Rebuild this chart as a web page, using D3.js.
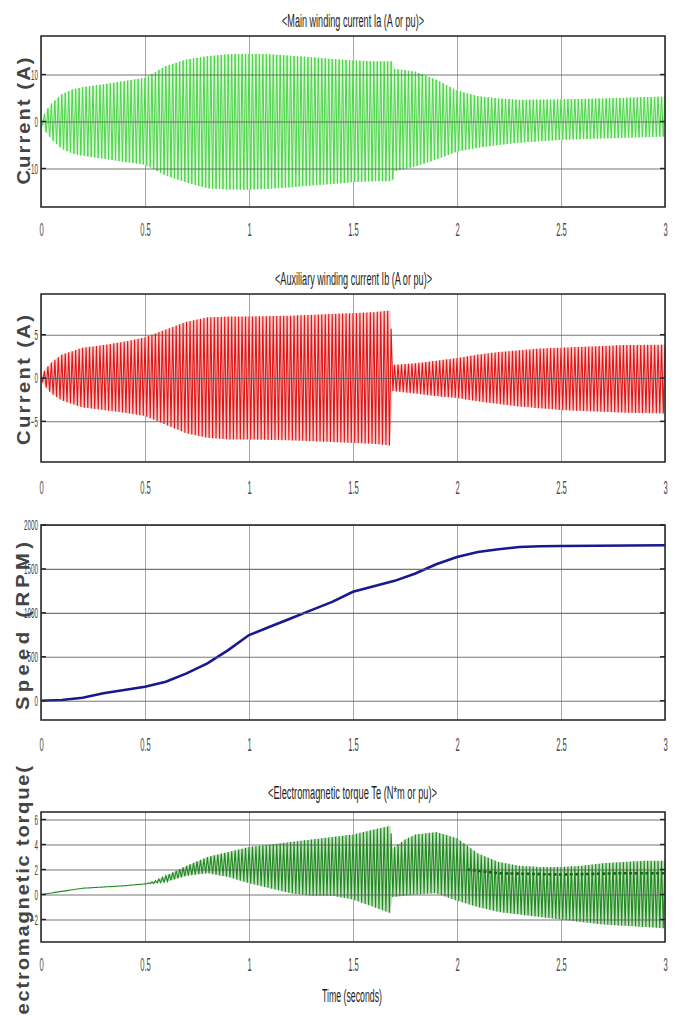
<!DOCTYPE html>
<html>
<head>
<meta charset="utf-8">
<script src="https://cdn.jsdelivr.net/npm/d3@7"></script>
<style>
  html, body { margin: 0; padding: 0; background: #fff; }
  svg { display: block; font-family: "Liberation Sans", Arial, sans-serif; }
</style>
</head>
<body>
<script>
// ---- data ---------------------------------------------------------------
const xTicks = [0, 0.5, 1, 1.5, 2, 2.5, 3];
const supplyHz = 60;

// Main winding current Ia: envelope of the oscillation (A)
const iaTimes = [0, 0.02, 0.05, 0.1, 0.15, 0.2, 0.3, 0.4, 0.5, 0.6, 0.7, 0.8, 0.9, 1.0, 1.1, 1.2, 1.3, 1.4, 1.5, 1.6, 1.69, 1.70, 1.8, 1.9, 2.0, 2.1, 2.2, 2.3, 2.5, 2.7, 3.0];
const iaUpper = [0, 2.0, 3.8, 5.8, 6.8, 7.3, 7.9, 8.6, 9.3, 11.8, 13.2, 13.9, 14.3, 14.4, 14.3, 14.0, 13.7, 13.3, 13.0, 12.8, 12.8, 11.2, 10.6, 8.9, 6.6, 5.4, 4.9, 4.6, 4.7, 4.9, 5.3];
const iaLower = [0, -2.0, -3.8, -5.8, -6.8, -7.3, -7.9, -8.6, -9.2, -11.5, -13.0, -14.2, -14.5, -14.5, -14.3, -14.0, -13.6, -13.3, -12.9, -12.7, -12.7, -10.6, -9.6, -8.1, -6.4, -5.6, -5.0, -4.5, -3.9, -3.6, -3.2];
const iaTicks = [-10, 0, 10];

// Auxiliary winding current Ib: envelope of the oscillation (A)
const ibTimes = [0, 0.02, 0.05, 0.1, 0.2, 0.3, 0.4, 0.5, 0.6, 0.7, 0.8, 0.9, 1.0, 1.2, 1.4, 1.6, 1.68, 1.69, 1.8, 1.9, 2.0, 2.1, 2.2, 2.3, 2.4, 2.5, 2.6, 2.7, 2.8, 3.0];
const ibUpper = [0, 1.0, 1.8, 2.7, 3.5, 3.8, 4.2, 4.7, 5.6, 6.5, 7.0, 7.1, 7.1, 7.2, 7.4, 7.6, 7.8, 1.5, 1.7, 2.0, 2.3, 2.7, 3.0, 3.2, 3.4, 3.5, 3.6, 3.7, 3.8, 3.85];
const ibLower = [0, -1.0, -1.8, -2.6, -3.4, -3.7, -4.0, -4.4, -5.4, -6.4, -6.9, -7.1, -7.1, -7.2, -7.4, -7.6, -7.8, -1.5, -1.8, -2.1, -2.3, -2.7, -3.0, -3.3, -3.5, -3.7, -3.8, -3.9, -4.0, -4.1];
const ibTicks = [-5, 0, 5];

// Rotor speed (RPM)
const speedTimes = [0, 0.1, 0.2, 0.3, 0.4, 0.5, 0.6, 0.7, 0.8, 0.9, 1.0, 1.1, 1.2, 1.3, 1.4, 1.5, 1.6, 1.7, 1.8, 1.9, 2.0, 2.1, 2.2, 2.3, 2.4, 2.5, 3.0];
const speedRpm = [0, 8, 34, 84, 122, 159, 216, 311, 425, 576, 747, 841, 936, 1031, 1125, 1239, 1303, 1364, 1448, 1553, 1636, 1693, 1724, 1750, 1758, 1761, 1769];
const speedTicks = [0, 500, 1000, 1500, 2000];

// Electromagnetic torque Te: envelope of the oscillation (N*m)
const teTimes = [0, 0.1, 0.2, 0.3, 0.4, 0.5, 0.55, 0.6, 0.7, 0.8, 0.9, 1.0, 1.1, 1.2, 1.3, 1.4, 1.5, 1.6, 1.68, 1.69, 1.75, 1.8, 1.9, 2.0, 2.1, 2.2, 2.3, 2.4, 2.5, 2.6, 2.7, 2.8, 2.9, 3.0];
const teUpper = [0, 0.25, 0.5, 0.6, 0.7, 0.85, 1.1, 1.5, 2.3, 3.0, 3.4, 3.8, 4.0, 4.2, 4.4, 4.6, 4.8, 5.2, 5.5, 3.7, 4.4, 4.8, 5.0, 4.5, 3.3, 2.6, 2.3, 2.2, 2.2, 2.3, 2.5, 2.6, 2.7, 2.7];
const teLower = [0, 0.25, 0.5, 0.6, 0.7, 0.85, 0.9, 1.0, 1.5, 1.7, 1.4, 0.9, 0.5, 0.1, -0.1, -0.1, -0.4, -1.0, -1.5, -0.2, -0.1, 0.0, 0.1, -0.5, -1.0, -1.4, -1.6, -1.8, -2.0, -2.2, -2.4, -2.5, -2.6, -2.7];
// where the torque trace dwells once the machine settles (N*m)
const teDwellTimes = [2.05, 2.2, 2.5, 2.8, 3.0];
const teDwell = [2.0, 1.7, 1.6, 1.7, 1.7];
const teTicks = [-2, 0, 2, 4, 6];

// ---- drawing ------------------------------------------------------------
const W = 677, H = 1016;
const svg = d3.select("body").append("svg").attr("width", W).attr("height", H);
svg.append("rect").attr("width", W).attr("height", H).attr("fill", "#fff");

const x = d3.scaleLinear().domain([0, 3]).range([41, 665]);
const labelStretch = 1.12; // glyphs of the axis labels run slightly tall

// squeeze rendered text horizontally to a narrow face
function narrow(sel, factor) {
  sel.each(function () {
    const len = this.getComputedTextLength();
    d3.select(this).attr("textLength", len * factor).attr("lengthAdjust", "spacingAndGlyphs");
  });
}

function panel(p) {
  const y = d3.scaleLinear().domain(p.yDomain).range([p.bottom, p.top]);
  const g = svg.append("g");
  const h = p.bottom - p.top;
  const w = x(3) - x(0);

  // axis label (drawn first so the tick labels sit on top of it)
  g.append("text")
    .attr("transform", `translate(${p.labelX},${p.labelY}) rotate(-90) scale(${labelStretch},1)`)
    .attr("text-anchor", p.labelAnchor || "middle")
    .attr("font-size", 18).attr("font-weight", "bold").attr("fill", "#444")
    .attr("textLength", p.labelLen / labelStretch).attr("lengthAdjust", "spacing")
    .text(p.yLabel);

  // vertical grid
  g.append("g").attr("transform", `translate(0,${p.bottom})`)
    .call(d3.axisBottom(x).tickValues(xTicks).tickSize(-h).tickFormat(""))
    .call(s => { s.select(".domain").remove(); s.selectAll("line").attr("stroke", "#a8a8a8").attr("stroke-width", 1); });

  const layer = g.append("g");

  // horizontal grid, over the traces
  g.append("g").attr("transform", `translate(${x(0)},0)`)
    .call(d3.axisLeft(y).tickValues(p.yTicks).tickSize(-w).tickFormat(""))
    .call(s => { s.select(".domain").remove(); s.selectAll("line").attr("stroke", "#5e5e5e").attr("stroke-width", 1.1).attr("stroke-opacity", 0.85); });

  // border
  g.append("rect").attr("x", x(0)).attr("y", p.top).attr("width", w).attr("height", h)
    .attr("fill", "none").attr("stroke", "#2e2e2e").attr("stroke-width", 1.6);

  // small inner ticks on both sides
  [[x(0), 5], [x(3), -5]].forEach(([x0, d]) => {
    g.append("g").selectAll("line").data(p.yTicks).join("line")
      .attr("x1", x0).attr("x2", x0 + d).attr("y1", v => y(v)).attr("y2", v => y(v))
      .attr("stroke", "#222").attr("stroke-width", 1.4);
  });

  // x tick labels
  g.append("g").attr("transform", `translate(0,${p.bottom})`)
    .call(d3.axisBottom(x).tickValues(xTicks).tickSize(0).tickPadding(p.xPad).tickFormat(d3.format("")))
    .call(s => {
      s.select(".domain").remove();
      s.selectAll("text").attr("font-size", 19).attr("fill", "#4a4a4a").attr("font-family", "Liberation Sans, Arial")
        .call(narrow, 0.4);
    });

  // y tick labels
  g.append("g").attr("transform", `translate(${x(0)},0)`)
    .call(d3.axisLeft(y).tickValues(p.yTicks).tickSize(0).tickPadding(3).tickFormat(d3.format("")))
    .call(s => {
      s.select(".domain").remove();
      s.selectAll("text").attr("font-size", 15).attr("fill", "#444").attr("font-family", "Liberation Sans, Arial")
        .call(narrow, 0.42);
    });

  if (p.title) {
    g.append("text").attr("x", p.titleX).attr("y", p.titleY).attr("text-anchor", "middle")
      .attr("font-size", 18).attr("fill", "#1e1e1e")
      .attr("textLength", p.titleW).attr("lengthAdjust", "spacingAndGlyphs").text(p.title);
  }

  return { y, layer };
}

// oscillating trace: alternate between the upper and lower envelope every half cycle
function oscillation(times, upper, lower) {
  const up = d3.scaleLinear().domain(times).range(upper).clamp(true);
  const lo = d3.scaleLinear().domain(times).range(lower).clamp(true);
  const n = 3 * supplyHz * 2;
  return d3.range(n + 1).map(k => {
    const t = k / (2 * supplyHz);
    return [t, k % 2 ? lo(t) : up(t)];
  });
}

function drawOscillation(pan, times, upper, lower, band, stroke, width) {
  const env = times.map((t, i) => [t, lower[i], upper[i]]);
  pan.layer.append("path").datum(env)
    .attr("fill", band).attr("fill-opacity", 0.8).attr("stroke", "none")
    .attr("d", d3.area().x(d => x(d[0])).y0(d => pan.y(d[1])).y1(d => pan.y(d[2])));
  pan.layer.append("path").datum(oscillation(times, upper, lower))
    .attr("fill", "none").attr("stroke", stroke).attr("stroke-width", width)
    .attr("d", d3.line().x(d => x(d[0])).y(d => pan.y(d[1])));
}

// 1) main winding current
const p1 = panel({
  top: 36, bottom: 207, yDomain: [-18.2, 18.2], yTicks: iaTicks, xPad: 16,
  title: "<Main winding current Ia (A or pu)>", titleX: 353, titleY: 26.5, titleW: 142,
  yLabel: "Current (A)", labelX: 30, labelY: 121, labelLen: 127
});
drawOscillation(p1, iaTimes, iaUpper, iaLower, "#d2f4cf", "#4ad646", 1);

// 2) auxiliary winding current
const p2 = panel({
  top: 294, bottom: 462, yDomain: [-9.7, 9.7], yTicks: ibTicks, xPad: 19,
  title: "<Auxiliary  winding current Ib (A or pu)>", titleX: 353.5, titleY: 285, titleW: 157,
  yLabel: "Current (A)", labelX: 30, labelY: 380, labelLen: 130
});
drawOscillation(p2, ibTimes, ibUpper, ibLower, "#f4c0c0", "#e01616", 1.1);

// 3) rotor speed
const p3 = panel({
  top: 525, bottom: 720, yDomain: [-220, 2000], yTicks: speedTicks, xPad: 18,
  yLabel: "Speed (RPM)", labelX: 29, labelY: 626, labelLen: 168
});
p3.layer.append("path").datum(speedTimes.map((t, i) => [t, speedRpm[i]]))
  .attr("fill", "none").attr("stroke", "#18188f").attr("stroke-width", 2.6)
  .attr("d", d3.line().x(d => x(d[0])).y(d => p3.y(d[1])));

// 4) electromagnetic torque
const p4 = panel({
  top: 812, bottom: 942, yDomain: [-3.8, 6.6], yTicks: teTicks, xPad: 16,
  title: "<Electromagnetic torque Te (N*m or pu)>", titleX: 352.5, titleY: 798.5, titleW: 169,
  yLabel: "Electromagnetic torque(", labelX: 29, labelY: 766, labelLen: 271, labelAnchor: "end"
});
drawOscillation(p4, teTimes, teUpper, teLower, "#b5dab2", "#1f8a1f", 1.1);
p4.layer.append("path").datum(teDwellTimes.map((t, i) => [t, teDwell[i]]))
  .attr("fill", "none").attr("stroke", "#11690f").attr("stroke-width", 2.6)
  .attr("stroke-dasharray", "3,2.4")
  .attr("d", d3.line().x(d => x(d[0])).y(d => p4.y(d[1])));

svg.append("text").attr("x", 352).attr("y", 1002).attr("text-anchor", "middle")
  .attr("font-size", 18).attr("fill", "#1e1e1e")
  .attr("textLength", 60).attr("lengthAdjust", "spacingAndGlyphs").text("Time (seconds)");
</script>
</body>
</html>
